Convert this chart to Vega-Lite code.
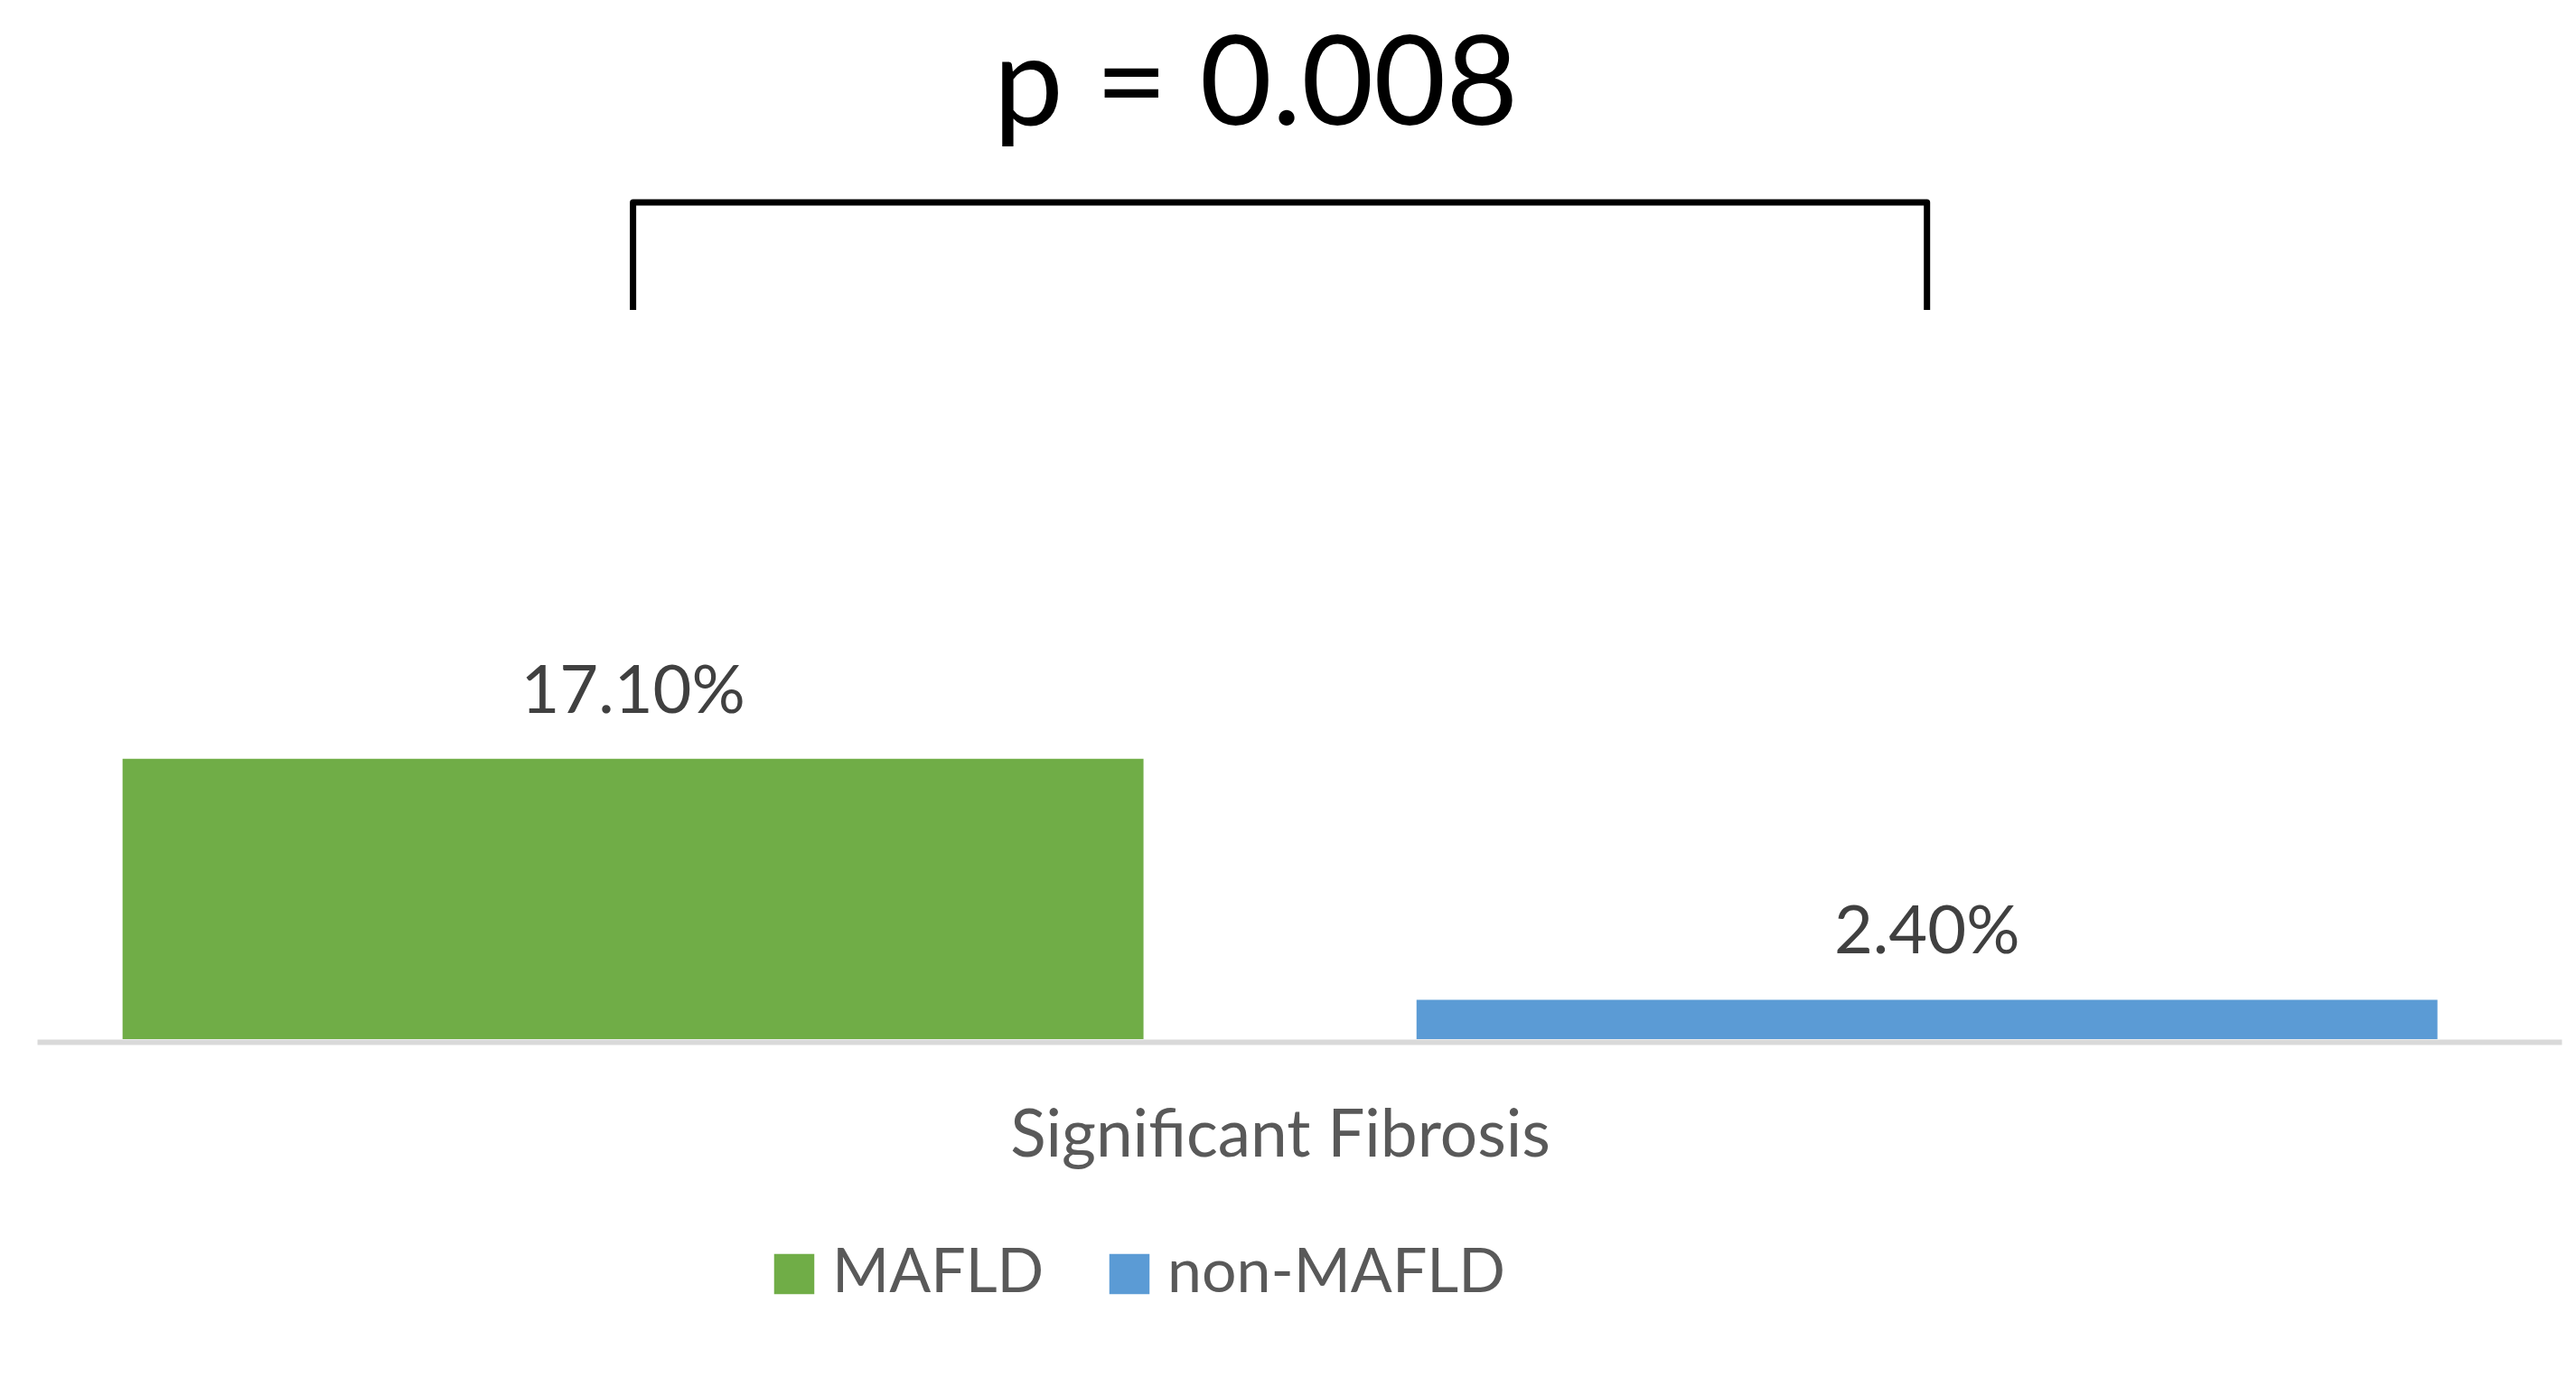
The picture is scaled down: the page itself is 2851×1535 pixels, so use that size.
{
  "$schema": "https://vega.github.io/schema/vega-lite/v6.json",
  "width": 2794,
  "height": 1150,
  "autosize": {"type": "none"},
  "padding": {"left": 41, "top": 0, "right": 16, "bottom": 385},
  "background": "white",
  "config": {"view": {"stroke": null}, "font": "Lato"},
  "datasets": {
    "bars": [
      {"category": "Significant Fibrosis", "group": "MAFLD", "value": 0.171},
      {"category": "Significant Fibrosis", "group": "non-MAFLD", "value": 0.024}
    ],
    "bracket": [
      {"category": "Significant Fibrosis", "group": "MAFLD", "y": 0.4446, "order": 1},
      {"category": "Significant Fibrosis", "group": "MAFLD", "y": 0.5102, "order": 2},
      {"category": "Significant Fibrosis", "group": "non-MAFLD", "y": 0.5102, "order": 3},
      {"category": "Significant Fibrosis", "group": "non-MAFLD", "y": 0.4446, "order": 4}
    ],
    "pval": [
      {"category": "Significant Fibrosis", "label": "p = 0.008", "y": 0.5576}
    ]
  },
  "encoding": {
    "x": {
      "field": "category",
      "type": "nominal",
      "scale": {"paddingInner": 0, "paddingOuter": 0},
      "axis": {
        "title": null,
        "ticks": false,
        "tickSize": 0,
        "domainColor": "#D9D9D9",
        "domainWidth": 6,
        "offset": 3,
        "labelAngle": 0,
        "labelFontSize": 73,
        "labelColor": "#595959",
        "labelBaseline": "alphabetic",
        "labelPadding": 126,
        "labelOffset": -21,
        "labelLimit": 0
      }
    }
  },
  "layer": [
    {
      "data": {"name": "bars"},
      "mark": {"type": "bar"},
      "encoding": {
        "xOffset": {
          "field": "group",
          "type": "nominal",
          "scale": {"type": "band", "paddingInner": 0.211, "paddingOuter": 0.081, "align": 0.408}
        },
        "y": {
          "field": "value",
          "type": "quantitative",
          "scale": {"domain": [0, 0.6336], "nice": false, "zero": true},
          "axis": null
        },
        "color": {
          "field": "group",
          "type": "nominal",
          "scale": {"domain": ["MAFLD", "non-MAFLD"], "range": ["#70AD47", "#5B9BD5"]},
          "legend": {
            "orient": "none",
            "legendX": 804,
            "legendY": 1376,
            "direction": "horizontal",
            "title": null,
            "symbolType": "square",
            "symbolSize": 1980,
            "symbolStrokeWidth": 0,
            "labelFontSize": 68,
            "labelColor": "#595959",
            "labelOffset": 8,
            "columnPadding": 60,
            "padding": 0,
            "labelLimit": 0
          }
        }
      }
    },
    {
      "data": {"name": "bars"},
      "mark": {"type": "text", "fontSize": 74, "color": "#404040", "baseline": "alphabetic", "align": "center", "dy": -51},
      "encoding": {
        "xOffset": {"field": "group", "type": "nominal"},
        "y": {"field": "value", "type": "quantitative"},
        "text": {"field": "value", "type": "quantitative", "format": ".2%"}
      }
    },
    {
      "data": {"name": "bracket"},
      "mark": {"type": "line", "color": "black", "strokeWidth": 7, "strokeJoin": "round"},
      "encoding": {
        "xOffset": {"field": "group", "type": "nominal"},
        "y": {"field": "y", "type": "quantitative"},
        "order": {"field": "order", "type": "quantitative"}
      }
    },
    {
      "data": {"name": "pval"},
      "mark": {"type": "text", "fontSize": 138, "color": "black", "baseline": "alphabetic", "align": "center", "dx": -48},
      "encoding": {
        "y": {"field": "y", "type": "quantitative"},
        "text": {"field": "label", "type": "nominal"}
      }
    }
  ]
}
